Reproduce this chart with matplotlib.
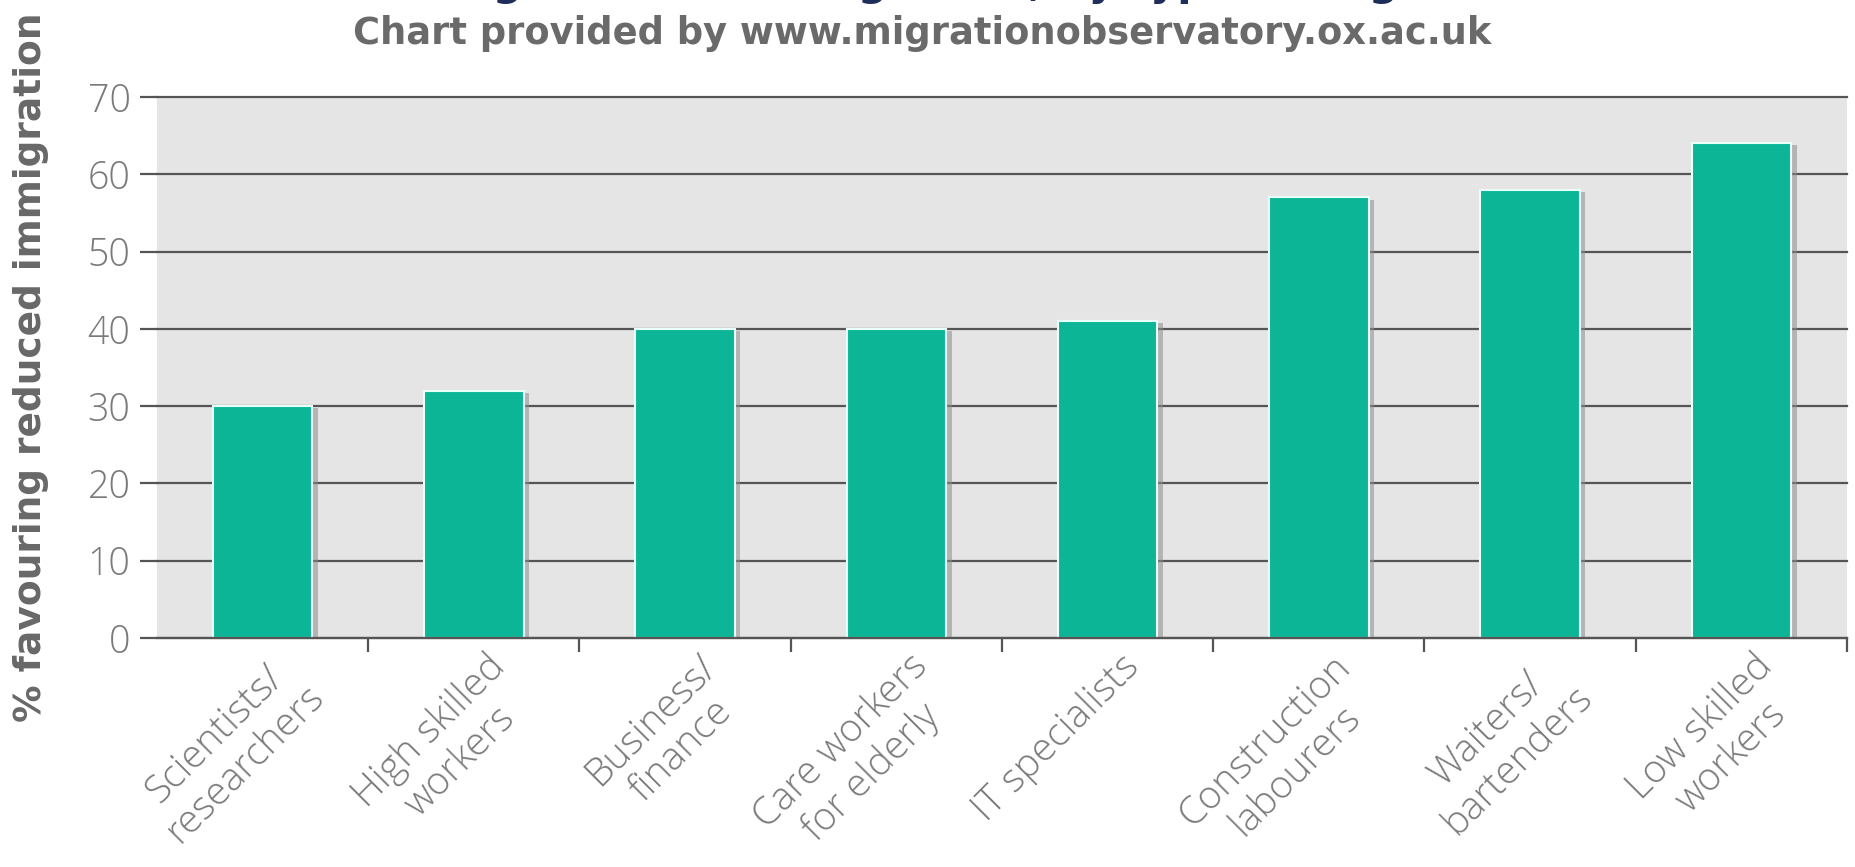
import matplotlib
matplotlib.use("Agg")
import matplotlib.pyplot as plt
import matplotlib.patheffects as pe
from matplotlib.transforms import ScaledTranslation
import numpy as np

categories = ["Scientists/\nresearchers", "High skilled\nworkers", "Business/\nfinance",
              "Care workers\nfor elderly", "IT specialists", "Construction\nlabourers",
              "Waiters/\nbartenders", "Low skilled\nworkers"]
values = [30, 32, 40, 40, 41, 57, 58, 64]
yticks = [0, 10, 20, 30, 40, 50, 60, 70]
title = "Share favouring reduced immigration, by type of migrant worker"
subtitle = "Chart provided by www.migrationobservatory.ox.ac.uk"
ylabel = "% favouring reduced immigration"

W, H, DPI = 1856, 867, 100
fig = plt.figure(figsize=(W / DPI, H / DPI), dpi=DPI)
ax = fig.add_axes([157 / W, 1 - 638 / H, (1847 - 157) / W, (638 - 97) / H])

bg = "#e5e5e5"
grid_c = "#555555"
bar_c = "#0bb596"
tick_c = "#7a7a7a"

ax.set_facecolor(bg)
x = np.arange(len(categories))
bars = ax.bar(x, values, width=0.47, color=bar_c, edgecolor="#e8fffa", linewidth=1.5, zorder=3)
for b in bars:
    b.set_path_effects([pe.SimplePatchShadow(offset=(4, -1.5), shadow_rgbFace="#8c8c8c", alpha=0.55), pe.Normal()])

ax.set_xlim(-0.5, len(categories) - 0.5)
ax.set_ylim(0, 70)
ax.set_yticks(yticks)
ax.yaxis.grid(True, color=grid_c, linewidth=1.6, zorder=1)
for gl in ax.get_ygridlines():
    gl.set_clip_on(False)
ax.set_axisbelow(True)
for s in ["top", "right", "left"]:
    ax.spines[s].set_visible(False)
ax.spines["bottom"].set_color(grid_c)
ax.spines["bottom"].set_linewidth(1.6)
ax.spines["bottom"].set_zorder(4)

ax.tick_params(axis="y", length=12, width=1.6, color=grid_c, pad=7, labelsize=27, labelcolor=tick_c)
ax.set_xticks(x)
ax.set_xticks(np.arange(len(categories)) + 0.5, minor=True)
ax.tick_params(axis="x", which="major", length=0, pad=8, labelsize=28, labelcolor=tick_c)
ax.tick_params(axis="x", which="minor", length=10, width=1.6, color=grid_c)
ax.set_xticklabels(categories, rotation=45, ha="right", va="top", rotation_mode="anchor",
                   multialignment="center", linespacing=1.15)
for lab in ax.get_xticklabels():
    lab.set_transform(lab.get_transform() + ScaledTranslation(0.12, 0.02, fig.dpi_scale_trans))
for lab in ax.get_xticklabels() + ax.get_yticklabels():
    lab.set_family(["Open Sans", "DejaVu Sans"])
    lab.set_fontweight(300)

ax.set_ylabel(ylabel, fontsize=27, fontweight="bold", color="#686868")
ax.yaxis.set_label_coords(-0.064, 0.5)

fig.text(0.497, 1 - 33 / H, subtitle, ha="center", va="center", fontsize=26.5, fontweight="bold", color="#6a6a6a")
fig.text(0.49, 1 + 5 / H, title, ha="center", va="baseline", fontsize=30, fontweight="bold", color="#1f2d5a")

fig.savefig("out.png", dpi=DPI)
